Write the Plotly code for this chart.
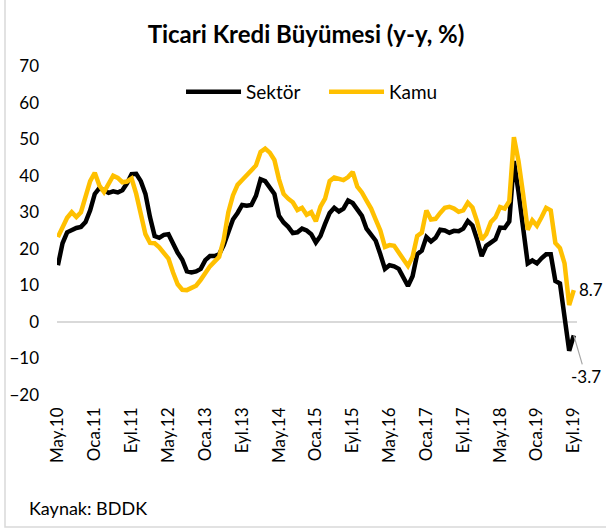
import plotly.graph_objects as go

# Monthly data, May 2010 - Sep 2019
ay_adlari = ["Oca", "Şub", "Mar", "Nis", "May", "Haz", "Tem", "Ağu", "Eyl", "Eki", "Kas", "Ara"]
start_year, start_month = 2010, 5  # May 2010
n_months = 113
categories = []
for i in range(n_months):
    m = (start_month - 1 + i) % 12
    y = start_year + (start_month - 1 + i) // 12
    categories.append(f"{ay_adlari[m]}.{str(y)[2:]}")

sektor = [15.5, 21.5, 24.5, 25.2, 25.7, 26.0, 27.3, 30.5, 35.0, 36.6,
          36.0, 35.3, 35.7, 35.4, 36.0, 37.9, 40.4, 40.5, 38.5, 35.0,
          28.6, 23.5, 23.0, 23.8, 24.0, 21.3, 18.9, 17.0, 13.8, 13.5,
          13.8, 14.5, 16.9, 18.0, 18.0, 18.5, 21.0, 24.5, 28.0, 29.8,
          32.0, 31.8, 32.0, 34.5, 39.0, 38.5, 36.8, 35.0, 29.0, 27.2,
          26.0, 24.3, 24.5, 25.5, 25.0, 24.0, 21.7, 23.5, 26.8, 29.8,
          31.2, 30.2, 31.0, 33.2, 32.5, 30.8, 29.0, 25.5, 24.0, 22.2,
          18.5, 14.5, 15.5, 15.2, 14.5, 12.0, 9.8, 12.5, 18.5, 19.5,
          23.2, 22.0, 23.0, 25.2, 25.0, 24.4, 24.9, 24.8, 25.5, 27.6,
          26.4, 22.6, 18.0, 20.8, 21.6, 22.6, 25.8, 25.7, 27.5, 44.0,
          35.5, 25.0, 16.0, 16.8, 16.0, 17.4, 18.5, 18.5, 11.2, 10.5,
          2.0, -7.9, -3.7]

kamu = [23.2, 26.0, 28.5, 30.0, 28.7, 30.0, 34.0, 38.5, 40.8, 37.3,
        35.5, 37.5, 40.0, 39.4, 38.2, 38.4, 39.2, 35.0, 30.0, 24.0,
        21.6, 21.5, 20.4, 18.7, 17.3, 13.5, 10.3, 8.8, 8.7, 9.3,
        9.9, 11.5, 13.6, 15.2, 16.5, 17.8, 22.5, 30.0, 34.6, 37.5,
        38.8, 40.0, 41.5, 42.8, 46.5, 47.4, 46.3, 44.3, 39.0, 35.0,
        33.7, 32.7, 30.6, 31.2, 29.3, 30.0, 27.5, 31.5, 33.7, 38.5,
        39.5, 39.3, 38.8, 39.6, 41.0, 37.0, 35.4, 33.2, 31.0, 28.0,
        25.0, 20.5, 21.0, 20.8, 18.8, 17.2, 15.3, 17.8, 23.5, 24.4,
        30.5, 28.0, 28.2, 29.8, 31.2, 31.5, 31.0, 30.1, 30.5, 32.6,
        31.3, 27.5, 22.5, 24.0, 27.3, 28.6, 31.4, 31.0, 33.0, 50.5,
        44.0, 35.0, 25.2, 27.8, 26.3, 28.6, 31.2, 30.5, 21.6, 20.2,
        16.0, 4.6, 8.7]

tick_step = 8
tick_labels = categories[::tick_step]
y_ticks = [-20, -10, 0, 10, 20, 30, 40, 50, 60, 70]

FONT = "Lato"
BLACK = "#000000"
GOLD = "#FFC000"

fig = go.Figure()
fig.add_trace(go.Scatter(x=categories, y=sektor, mode="lines", name="Sektör",
                         line=dict(color=BLACK, width=4.5), cliponaxis=False))
fig.add_trace(go.Scatter(x=categories, y=kamu, mode="lines", name="Kamu",
                         line=dict(color=GOLD, width=4.5), cliponaxis=False))

# value labels
fig.add_annotation(x=categories[-1], y=kamu[-1], text=f"{kamu[-1]:.1f}",
                   showarrow=False, xanchor="left", xshift=3, yshift=1,
                   font=dict(family=FONT, size=17, color="#000000"))
fig.add_annotation(x=categories[-1], y=sektor[-1], text=f"{sektor[-1]:.1f}",
                   showarrow=True, arrowhead=0, arrowwidth=1.2, arrowcolor="#a6a6a6",
                   ax=12, ay=41, standoff=0,
                   font=dict(family=FONT, size=17, color="#000000"))

fig.add_annotation(xref="paper", yref="paper", x=-0.058, y=-0.343,
                   text="Kaynak: BDDK", showarrow=False, xanchor="left", yanchor="middle",
                   font=dict(family=FONT, size=18, color="#000000"))

# chart border
fig.add_shape(type="rect", xref="paper", yref="paper",
              x0=-0.1, x1=1.2, y0=-0.401, y1=1.4,
              line=dict(color="#d9d9d9", width=1.5), layer="below")

fig.update_layout(
    width=606, height=531,
    margin=dict(l=57, r=29, t=66, b=136, pad=0, autoexpand=False),
    paper_bgcolor="white", plot_bgcolor="white",
    font=dict(family=FONT, size=17, color="#000000"),
    title=dict(text="<b>Ticari Kredi Büyümesi (y-y, %)</b>", x=0.505, xanchor="center",
               y=1 - 35 / 531, yanchor="middle", font=dict(family=FONT, size=24, color="#000000")),
    showlegend=True,
    legend=dict(orientation="h", x=0.2385, xanchor="left", y=0.921, yanchor="middle",
                bgcolor="rgba(0,0,0,0)", font=dict(family=FONT, size=19),
                itemwidth=55, entrywidth=73, entrywidthmode="pixels",
                traceorder="normal"),
    xaxis=dict(type="category", range=[-0.2, 112.7], tickmode="array",
               tickvals=tick_labels, ticktext=tick_labels, tickangle=-90,
               showgrid=False, zeroline=False, showline=False, ticks="",
               automargin=False,
               ticklabelstandoff=8, tickfont=dict(family=FONT, size=17)),
    yaxis=dict(range=[-20, 70], tickvals=y_ticks, showgrid=False,
               zeroline=True, zerolinecolor="#d9d9d9", zerolinewidth=1.5,
               showline=False, ticks="", ticklabelstandoff=17, automargin=False,
               tickfont=dict(family=FONT, size=17)),
)

fig.write_html("out.html", config={"displayModeBar": False},
               post_script="document.body.style.margin='0';document.body.style.overflow='hidden';")
